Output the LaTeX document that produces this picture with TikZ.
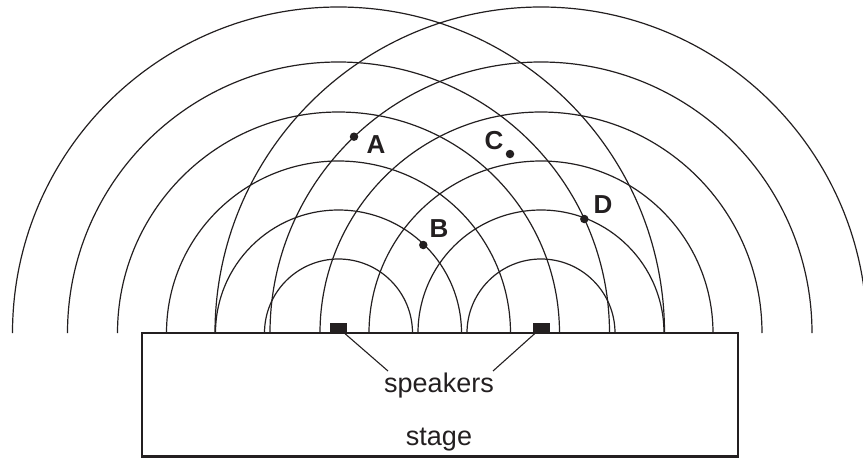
\documentclass[tikz,border=0pt]{standalone}
\usepackage{fontspec}
\setmainfont{Liberation Sans}
\usepackage{tikz}
\usetikzlibrary{positioning}
\definecolor{ink}{HTML}{231F20}

\begin{document}
\begin{tikzpicture}[
    x=1pt, y=-1pt,
    wave/.style={draw=ink, line width=1.2pt},
    leg/.style={draw=ink, line width=1.1pt},
    speaker/.style={rectangle, fill=ink, minimum width=17pt, minimum height=10pt, inner sep=0pt},
    spot/.style={circle, fill=ink, minimum size=8.5pt, inner sep=0pt},
    letter/.style={font=\fontsize{26}{26}\selectfont\bfseries, text=ink, inner sep=0pt},
    caption/.style={font=\fontsize{27}{30}\selectfont, text=ink, inner sep=0pt}
]
\useasboundingbox (0,0) rectangle (863,458);
% Ground line and speaker positions
\def\ground{333}
\def\spL{338.5}
\def\spR{541}

% === Wavefronts from both speakers ===
\foreach \c in {\spL,\spR}
  \foreach \r in {74,123,172,221,271,326}
    \draw[wave] (\c-\r,\ground) arc[start angle=180, end angle=360, radius=\r];

% === Stage ===
\draw[draw=ink, line width=2.4pt] (141.7,\ground) rectangle (738,456.3);

% === Speakers ===
\node[speaker] (spkL) at (\spL,328) {};
\node[speaker] (spkR) at (\spR,328) {};
\node[caption, anchor=base] (spkText) at (439,392.5) {speakers};
\coordinate (legL) at (388,371);
\coordinate (legR) at (493,371);
\draw[leg] (spkL) -- (legL);
\draw[leg] (spkR) -- (legR);

\node[caption, anchor=base] (stageText) at (439,445) {stage};

% === Points A to D ===
\node[spot] (ptA) at (354,136.7) {};
\node[spot] (ptB) at (423.3,245) {};
\node[spot] (ptC) at (510,154) {};
\node[spot] (ptD) at (584.3,219) {};
\node[letter] (labA) at (376,145) {A};
\node[letter] (labB) at (439,229) {B};
\node[letter] (labC) at (494,141) {C};
\node[letter] (labD) at (603,205) {D};
\end{tikzpicture}
\end{document}
